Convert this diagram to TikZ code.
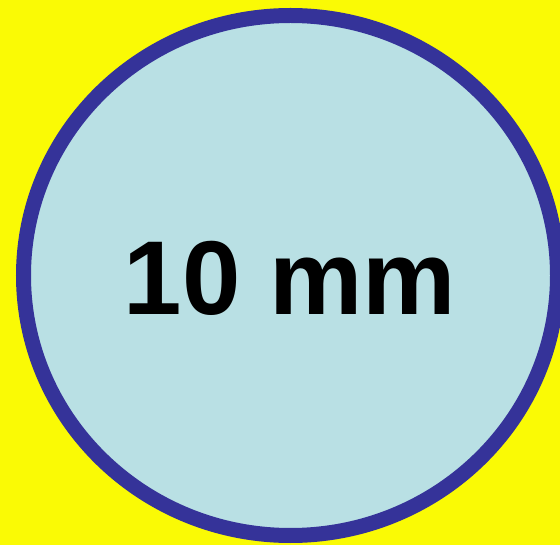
\documentclass[tikz,border=0pt]{standalone}
\usepackage{fontspec}
\setmainfont{Liberation Sans}
\definecolor{bgyellow}{RGB}{250,250,5}
\definecolor{discfill}{RGB}{185,224,228}
\definecolor{discline}{RGB}{53,51,153}
\tikzset{
  disc/.style={draw=discline, fill=discfill, line width=15pt},
  label/.style={font=\fontsize{105}{120}\selectfont\bfseries, text=black, inner sep=0pt, anchor=base}
}
\begin{document}
\begin{tikzpicture}[x=1pt,y=-1pt]
\fill[bgyellow] (0,0) rectangle (560,545);
\useasboundingbox (0,0) rectangle (560,545);
\begin{scope}
\clip (0,0) rectangle (560,545);
\path[disc] (290.5,275.5) ellipse [x radius=267, y radius=260];
\end{scope}
\node[label] (t) at (290,315) {10 mm};
\end{tikzpicture}
\end{document}
